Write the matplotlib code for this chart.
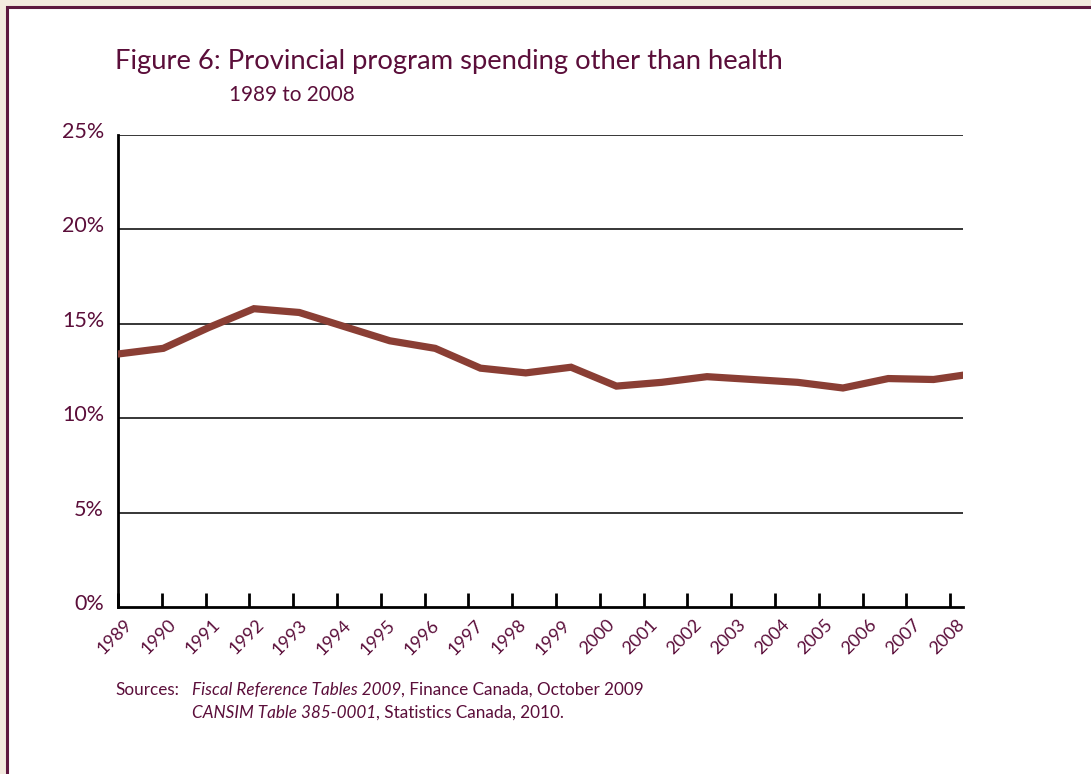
import matplotlib
matplotlib.use("Agg")
import matplotlib.pyplot as plt
import matplotlib.transforms as mtrans
from matplotlib.patches import Rectangle

years = [str(y) for y in range(1989, 2009)]
share = [13.4, 13.7, 14.8, 15.8, 15.6, 14.85, 14.1, 13.7, 12.65, 12.4,
         12.7, 11.7, 11.9, 12.2, 12.05, 11.9, 11.6, 12.1, 12.05, 12.4]
y_ticks = [0, 5, 10, 15, 20, 25]
y_labels = [f"{v}%" for v in y_ticks]

TXT = "#5B0E3A"
LINE = "#8A3E34"
plt.rcParams['font.family'] = ['Lato', 'DejaVu Sans']

W, H = 1091, 774
fig = plt.figure(figsize=(W/100, H/100), dpi=100)
fig.patch.set_facecolor("#F3EADF")
# white panel with maroon border (left & top)
fig.add_artist(Rectangle((7/W, -0.1), 1.2, (1-7/H) + 0.1, transform=fig.transFigure,
                         facecolor="white", edgecolor="#5E1840", linewidth=2.2, zorder=0))

ax = fig.add_axes([118/W, 1-607/H, (963-118)/W, (607-135)/H])
ax.set_facecolor("none")
x = list(range(len(share)))
ax.plot(x, share, color=LINE, lw=5.2, solid_joinstyle='miter', zorder=3)
ax.set_xlim(0, 18.65)
ax.set_ylim(0, 25)
ax.set_yticks(y_ticks)
ax.set_yticklabels(y_labels, color=TXT, fontsize=15.5)
ax.tick_params(axis='y', length=0, pad=10)
up = mtrans.ScaledTranslation(0, 3/100, fig.dpi_scale_trans)
for lab in ax.get_yticklabels():
    lab.set_va('center')
    lab.set_transform(lab.get_transform() + up)
for v in y_ticks[1:]:
    ax.axhline(v, color="black", lw=1.1, zorder=1)
ax.set_xticks([])
for s in ['top', 'right']:
    ax.spines[s].set_visible(False)
ax.spines['left'].set_linewidth(2)
ax.spines['bottom'].set_linewidth(2)

# category tick axis
ax2 = ax.twiny()
ax2.set_xlim(0, 19.29)
ax2.xaxis.set_ticks_position('bottom')
ax2.xaxis.set_label_position('bottom')
ax2.set_xticks(range(len(years)))
ax2.set_xticklabels(years, rotation=45, ha='right', va='top', rotation_mode='anchor',
                    color=TXT, fontsize=13)
ax2.tick_params(axis='x', direction='in', length=10, width=2, pad=7)
for s in ax2.spines.values():
    s.set_visible(False)
shift = mtrans.ScaledTranslation(6/100, 0, fig.dpi_scale_trans)
for lab in ax2.get_xticklabels():
    lab.set_transform(lab.get_transform() + shift)

fig.text(115/W, 1-69/H, "Figure 6: Provincial program spending other than health",
         color=TXT, fontsize=19.7, va='baseline')
fig.text(229/W, 1-101/H, "1989 to 2008", color=TXT, fontsize=14.9, va='baseline')

fs = 12.3
fig.text(115/W, 1-695/H, "Sources:", color=TXT, fontsize=fs, va='baseline')
t1 = fig.text(192/W, 1-695/H, "Fiscal Reference Tables 2009", color=TXT, fontsize=fs,
              va='baseline', style='italic')
fig.add_artist(matplotlib.text.Annotation(", Finance Canada, October 2009", xy=(1, 0), xycoords=t1,
               color=TXT, fontsize=fs, va='bottom', ha='left', annotation_clip=False))
t2 = fig.text(192/W, 1-718/H, "CANSIM Table 385-0001", color=TXT, fontsize=fs,
              va='baseline', style='italic')
fig.add_artist(matplotlib.text.Annotation(", Statistics Canada, 2010.", xy=(1, 0), xycoords=t2,
               color=TXT, fontsize=fs, va='bottom', ha='left', annotation_clip=False))

fig.savefig("out.png", dpi=100, facecolor=fig.get_facecolor())
